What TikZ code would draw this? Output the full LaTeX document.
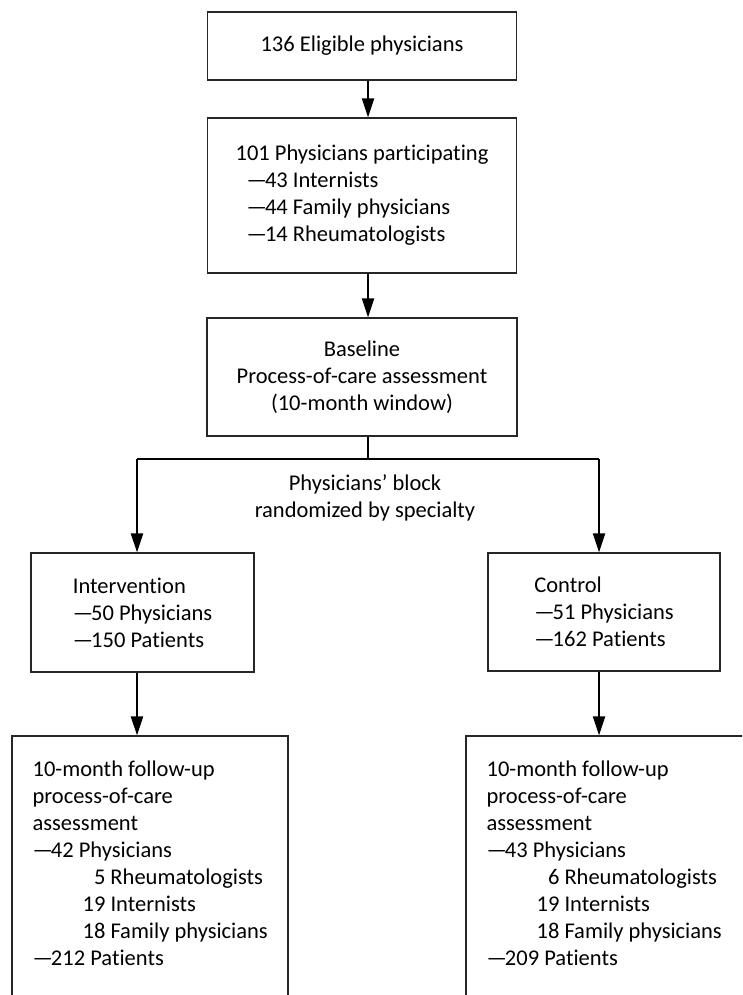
\documentclass[tikz,border=0pt]{standalone}
\usepackage{fontspec}
\setmainfont{Carlito}[Ligatures={TeX,NoCommon}]
\usetikzlibrary{positioning, arrows.meta}

\newcommand{\ldash}{---\kern-2pt}

\tikzset{
	box/.style={draw=black!85, line width=1.2pt, rectangle, inner sep=0pt, align=left,
		font=\fontsize{22.5}{27}\selectfont},
	flow/.style={line width=2pt, -{Triangle[length=19pt, width=12pt]}},
	txt/.style={inner sep=0pt, align=left, font=\fontsize{22.5}{27}\selectfont},
}

\begin{document}
\begin{tikzpicture}[x=1pt, y=-1pt]
	\useasboundingbox (0,0) rectangle (742,995);
	\clip (0,0) rectangle (742,995);

	% boxes down the middle
	\node	(elig)	at	(362, 46)	[box, minimum width=309pt, minimum height=68pt]		{136 Eligible physicians};
	\node	(part)	at	(362, 195.5)	[box, minimum width=309pt, minimum height=155pt]
		{101 Physicians participating\\ \hspace*{11pt}\ldash43 Internists\\ \hspace*{11pt}\ldash44 Family physicians\\ \hspace*{11pt}\ldash14 Rheumatologists};
	\node	(base)	at	(362, 377)	[box, minimum width=310pt, minimum height=118pt, align=center]
		{Baseline\\ Process-of-care assessment\\ (10-month window)};

	% the two arms
	\node	(interv)	at	(142.5, 612.5)	[box, minimum width=223pt, minimum height=119pt]
		{Intervention\\ \ldash50 Physicians\\ \ldash150 Patients};
	\node	(ctrl)	at	(604, 612)	[box, minimum width=232pt, minimum height=118pt]
		{Control\\ \ldash51 Physicians\\ \ldash162 Patients};

	% follow-up boxes, open past the page
	\node	(fu1)	at	(150, 873)	[box, minimum width=276pt, minimum height=274pt]	{};
	\node	(fu2)	at	(605, 873)	[box, minimum width=278pt, minimum height=274pt]	{};
	\node	(fu1txt)	[txt, below right=25pt and 21pt of fu1.north west]
		{10-month follow-up\\ process-of-care\\ assessment\\ \ldash42 Physicians\\
		 \hspace*{50pt}\hphantom{1}5 Rheumatologists\\ \hspace*{50pt}19 Internists\\
		 \hspace*{50pt}18 Family physicians\\ \ldash212 Patients};
	\node	(fu2txt)	[txt, below right=25pt and 21pt of fu2.north west]
		{10-month follow-up\\ process-of-care\\ assessment\\ \ldash43 Physicians\\
		 \hspace*{50pt}\hphantom{1}6 Rheumatologists\\ \hspace*{50pt}19 Internists\\
		 \hspace*{50pt}18 Family physicians\\ \ldash209 Patients};

	\coordinate	(fork)	at	(368, 459);
	\coordinate	(lsplit)	at	(137, 459);
	\coordinate	(rsplit)	at	(599, 459);
	\node	(rand)	at	(365, 497.5)	[txt, align=center]	{Physicians' block\\ randomized by specialty};

	% connectors
	\draw	[flow]	(fork |- elig.south) -- (fork |- part.north);
	\draw	[flow]	(fork |- part.south) -- (fork |- base.north);
	\draw	[line width=2pt]	(fork |- base.south) -- (fork);
	\draw	[line width=2pt]	(lsplit) -- (rsplit);
	\draw	[flow]	(lsplit) -- (lsplit |- interv.north);
	\draw	[flow]	(rsplit) -- (rsplit |- ctrl.north);
	\draw	[flow]	(lsplit |- interv.south) -- (lsplit |- fu1.north);
	\draw	[flow]	(rsplit |- ctrl.south) -- (rsplit |- fu2.north);
\end{tikzpicture}
\end{document}
